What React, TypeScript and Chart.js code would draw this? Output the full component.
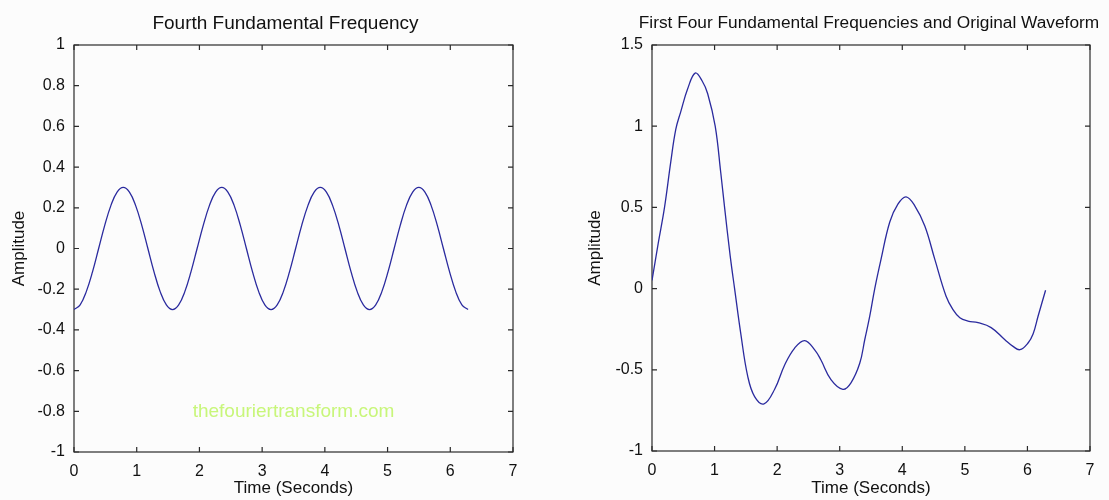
import React, { useEffect, useRef } from 'react';
import { Chart, registerables } from 'chart.js';

Chart.register(...registerables);

// ---------- data ----------
const TIME_4 = [
  0, 0.098, 0.196, 0.295, 0.393, 0.491, 0.589, 0.687, 0.785, 0.884, 0.982, 1.08, 1.178,
  1.276, 1.374, 1.473, 1.571, 1.669, 1.767, 1.865, 1.963, 2.062, 2.16, 2.258, 2.356,
  2.454, 2.553, 2.651, 2.749, 2.847, 2.945, 3.043, 3.142, 3.24, 3.338, 3.436, 3.534,
  3.632, 3.731, 3.829, 3.927, 4.025, 4.123, 4.222, 4.32, 4.418, 4.516, 4.614, 4.712,
  4.811, 4.909, 5.007, 5.105, 5.203, 5.301, 5.4, 5.498, 5.596, 5.694, 5.792, 5.89,
  5.989, 6.087, 6.185, 6.283,
];
const AMP_4 = [
  -0.3, -0.277, -0.212, -0.115, 0, 0.115, 0.212, 0.277, 0.3, 0.277, 0.212, 0.115, 0,
  -0.115, -0.212, -0.277, -0.3, -0.277, -0.212, -0.115, 0, 0.115, 0.212, 0.277, 0.3,
  0.277, 0.212, 0.115, 0, -0.115, -0.212, -0.277, -0.3, -0.277, -0.212, -0.115, 0,
  0.115, 0.212, 0.277, 0.3, 0.277, 0.212, 0.115, 0, -0.115, -0.212, -0.277, -0.3,
  -0.277, -0.212, -0.115, 0, 0.115, 0.212, 0.277, 0.3, 0.277, 0.212, 0.115, 0,
  -0.115, -0.212, -0.277, -0.3,
];

const TIME_SUM = [
  0, 0.1, 0.2, 0.3, 0.38, 0.46, 0.57, 0.69, 0.8, 0.89, 1.01, 1.1, 1.16, 1.25, 1.32, 1.42,
  1.53, 1.64, 1.79, 1.96, 2.12, 2.28, 2.44, 2.6, 2.7, 2.86, 3.05, 3.18, 3.32, 3.4, 3.48,
  3.56, 3.66, 3.8, 3.93, 4.06, 4.2, 4.36, 4.52, 4.7, 4.81, 4.92, 5.05, 5.21, 5.42, 5.64,
  5.77, 5.88, 6.01, 6.09, 6.17, 6.29,
];
const AMP_SUM = [
  0.05, 0.28, 0.5, 0.78, 0.98, 1.09, 1.23, 1.327, 1.28, 1.2, 1.0, 0.71, 0.5, 0.2, 0.0, -0.28,
  -0.54, -0.665, -0.71, -0.62, -0.47, -0.366, -0.32, -0.377, -0.44, -0.56, -0.62, -0.58,
  -0.46, -0.315, -0.17, 0.0, 0.18, 0.41, 0.52, 0.565, 0.51, 0.385, 0.18, -0.047,
  -0.13, -0.18, -0.2, -0.21, -0.24, -0.315, -0.356, -0.376, -0.335, -0.28, -0.17, -0.01,
];

const X_TICKS = [0, 1, 2, 3, 4, 5, 6, 7];
const X_TICK_LABELS = ['0', '1', '2', '3', '4', '5', '6', '7'];
const LEFT_Y_TICKS = [-1, -0.8, -0.6, -0.4, -0.2, 0, 0.2, 0.4, 0.6, 0.8, 1];
const LEFT_Y_LABELS = ['-1', '-0.8', '-0.6', '-0.4', '-0.2', '0', '0.2', '0.4', '0.6', '0.8', '1'];
const RIGHT_Y_TICKS = [-1, -0.5, 0, 0.5, 1, 1.5];
const RIGHT_Y_LABELS = ['-1', '-0.5', '0', '0.5', '1', '1.5'];

const LEFT_TITLE = 'Fourth Fundamental Frequency';
const RIGHT_TITLE = 'First Four Fundamental Frequencies and Original Waveform';
const X_TITLE = 'Time (Seconds)';
const Y_TITLE = 'Amplitude';
const WATERMARK = 'thefouriertransform.com';
const WATERMARK_AT = { x: 3.5, y: -0.8 };

// ---------- styles ----------
const FONT = '"Liberation Sans", Arial, Helvetica, sans-serif';
const LINE_COLOR = '#2a2a9e';
const TEXT_COLOR = '#111111';
const AXIS_COLOR = '#2a2a2a';
const BG = '#fcfcfc';
const WATERMARK_COLOR = '#c8f67a';

const boxPlugin = {
  id: 'matlabBox',
  beforeDatasetsDraw(chart: any) {
    const { ctx, chartArea } = chart;
    const { left, right, top, bottom } = chartArea;
    const xs = chart.scales.x;
    const ys = chart.scales.y;
    const L = 5;
    ctx.save();
    ctx.strokeStyle = AXIS_COLOR;
    ctx.lineWidth = 1.2;
    ctx.strokeRect(left, top, right - left, bottom - top);
    ctx.beginPath();
    xs.ticks.forEach((t: any) => {
      const px = xs.getPixelForValue(t.value);
      ctx.moveTo(px, bottom);
      ctx.lineTo(px, bottom - L);
      ctx.moveTo(px, top);
      ctx.lineTo(px, top + L);
    });
    ys.ticks.forEach((t: any) => {
      const py = ys.getPixelForValue(t.value);
      ctx.moveTo(left, py);
      ctx.lineTo(left + L, py);
      ctx.moveTo(right, py);
      ctx.lineTo(right - L, py);
    });
    ctx.stroke();
    ctx.restore();
  },
};

// Axes title drawn centred over the plot box (may be wider than the box, like MATLAB)
const axesTitlePlugin = {
  id: 'axesTitle',
  afterDraw(chart: any, _args: any, opts: any) {
    const { ctx, chartArea } = chart;
    const cx = (chartArea.left + chartArea.right) / 2 + (opts.dx || 0);
    ctx.save();
    ctx.font = `${opts.size}px ${FONT}`;
    ctx.fillStyle = TEXT_COLOR;
    ctx.textAlign = 'center';
    ctx.textBaseline = 'middle';
    ctx.fillText(opts.text, cx, opts.y);
    ctx.restore();
  },
};

const watermarkPlugin = {
  id: 'watermark',
  afterDatasetsDraw(chart: any) {
    const { ctx } = chart;
    const x = chart.scales.x.getPixelForValue(WATERMARK_AT.x);
    const y = chart.scales.y.getPixelForValue(WATERMARK_AT.y);
    ctx.save();
    ctx.font = `19px ${FONT}`;
    ctx.fillStyle = WATERMARK_COLOR;
    ctx.textAlign = 'center';
    ctx.textBaseline = 'middle';
    ctx.fillText(WATERMARK, x, y);
    ctx.restore();
  },
};

function makeConfig(opts: {
  times: number[];
  amps: number[];
  title: { text: string; size: number; y: number; dx: number };
  yTicks: number[];
  yLabels: string[];
  yMin: number;
  yMax: number;
  yWidth: number;
  yTitlePad: number;
  padRight: number;
  padTop: number;
  xHeight: number;
  extraPlugins: any[];
}) {
  const tickFont = { family: FONT, size: 16 };
  const labelFont = { family: FONT, size: 17 };
  return {
    type: 'line',
    data: {
      datasets: [
        {
          data: opts.times.map((t, i) => ({ x: t, y: opts.amps[i] })),
          borderColor: LINE_COLOR,
          borderWidth: 1.3,
          pointRadius: 0,
          fill: false,
          tension: 0.4,
        },
      ],
    },
    options: {
      animation: false,
      responsive: false,
      maintainAspectRatio: false,
      layout: { padding: { left: 0, right: opts.padRight, top: opts.padTop, bottom: 0 } },
      plugins: {
        legend: { display: false },
        tooltip: { enabled: false },
        title: { display: false },
        axesTitle: opts.title,
      },
      scales: {
        x: {
          type: 'linear',
          min: 0,
          max: 7,
          afterBuildTicks: (s: any) => {
            s.ticks = X_TICKS.map((v) => ({ value: v }));
          },
          afterFit: (s: any) => {
            s.height = opts.xHeight;
          },
          grid: { display: false, drawTicks: false },
          border: { display: false },
          ticks: {
            padding: 10,
            color: TEXT_COLOR,
            font: tickFont,
            maxRotation: 0,
            autoSkip: false,
            callback: (_v: any, i: number) => X_TICK_LABELS[i],
          },
          title: {
            display: true,
            text: X_TITLE,
            color: TEXT_COLOR,
            font: labelFont,
            padding: { top: 0, bottom: 1 },
          },
        },
        y: {
          type: 'linear',
          min: opts.yMin,
          max: opts.yMax,
          afterBuildTicks: (s: any) => {
            s.ticks = opts.yTicks.map((v) => ({ value: v }));
          },
          afterFit: (s: any) => {
            s.width = opts.yWidth;
          },
          grid: { display: false, drawTicks: false },
          border: { display: false },
          ticks: {
            padding: 9,
            color: TEXT_COLOR,
            font: tickFont,
            autoSkip: false,
            callback: (_v: any, i: number) => opts.yLabels[i],
          },
          title: {
            display: true,
            text: Y_TITLE,
            color: TEXT_COLOR,
            font: labelFont,
            padding: { top: opts.yTitlePad, bottom: 0 },
          },
        },
      },
    },
    plugins: [boxPlugin, axesTitlePlugin, ...opts.extraPlugins],
  };
}

export default function App() {
  const leftRef = useRef<HTMLCanvasElement | null>(null);
  const rightRef = useRef<HTMLCanvasElement | null>(null);

  useEffect(() => {
    if (!leftRef.current || !rightRef.current) return;
    const left = new Chart(
      leftRef.current,
      makeConfig({
        times: TIME_4,
        amps: AMP_4,
        title: { text: LEFT_TITLE, size: 19, y: 24, dx: -8 },
        yTicks: LEFT_Y_TICKS,
        yLabels: LEFT_Y_LABELS,
        yMin: -1,
        yMax: 1,
        yWidth: 74,
        yTitlePad: 9,
        padRight: 42,
        padTop: 45,
        xHeight: 48,
        extraPlugins: [watermarkPlugin],
      }) as any
    );
    const right = new Chart(
      rightRef.current,
      makeConfig({
        times: TIME_SUM,
        amps: AMP_SUM,
        title: { text: RIGHT_TITLE, size: 17.3, y: 23, dx: -2 },
        yTicks: RIGHT_Y_TICKS,
        yLabels: RIGHT_Y_LABELS,
        yMin: -1,
        yMax: 1.5,
        yWidth: 97,
        yTitlePad: 30,
        padRight: 19,
        padTop: 45,
        xHeight: 49,
        extraPlugins: [],
      }) as any
    );
    return () => {
      left.destroy();
      right.destroy();
    };
  }, []);

  return (
    <div
      style={{
        position: 'fixed',
        left: 0,
        top: 0,
        width: 1109,
        height: 500,
        background: BG,
        overflow: 'hidden',
      }}
    >
      <canvas
        ref={leftRef}
        width={555}
        height={500}
        style={{ position: 'absolute', left: 0, top: 0 }}
      />
      <canvas
        ref={rightRef}
        width={554}
        height={500}
        style={{ position: 'absolute', left: 555, top: 0 }}
      />
    </div>
  );
}
